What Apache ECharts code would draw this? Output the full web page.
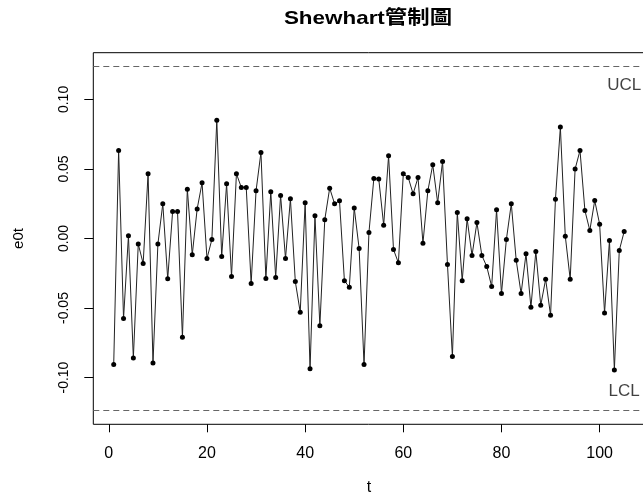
<!DOCTYPE html>
<html>
<head>
<meta charset="utf-8">
<script src="https://cdn.jsdelivr.net/npm/echarts@6/dist/echarts.min.js"></script>
<style>html,body{margin:0;padding:0;background:#fff;}#c{width:643px;height:493px;}</style>
</head>
<body>
<div id="c"></div>
<script>
const t = [1,2,3,4,5,6,7,8,9,10,11,12,13,14,15,16,17,18,19,20,21,22,23,24,25,26,27,28,29,30,31,32,33,34,35,36,37,38,39,40,41,42,43,44,45,46,47,48,49,50,51,52,53,54,55,56,57,58,59,60,61,62,63,64,65,66,67,68,69,70,71,72,73,74,75,76,77,78,79,80,81,82,83,84,85,86,87,88,89,90,91,92,93,94,95,96,97,98,99,100,101,102,103,104,105];
const e0t = [
 -0.0906, 0.0633, -0.0576, 0.0020, -0.0860, -0.0040, -0.0180, 0.0465, -0.0895, -0.0040,
  0.0250, -0.0290, 0.0194, 0.0194, -0.0710, 0.0355, -0.0117, 0.0213, 0.0400, -0.0144,
 -0.0007, 0.0851, -0.0130, 0.0393, -0.0273, 0.0465, 0.0367, 0.0367, -0.0324, 0.0343,
  0.0619, -0.0288, 0.0336, -0.0280, 0.0310, -0.0144, 0.0285, -0.0310, -0.0530, 0.0257,
 -0.0937, 0.0163, -0.0628, 0.0135, 0.0362, 0.0250, 0.0271, -0.0304, -0.0350, 0.0220,
 -0.0072, -0.0906, 0.0043, 0.0432, 0.0427, 0.0096, 0.0595, -0.0079, -0.0175, 0.0465,
  0.0439, 0.0321, 0.0439, -0.0034, 0.0343, 0.0530, 0.0257, 0.0554, -0.0187, -0.0849,
  0.0187, -0.0304, 0.0142, -0.0122, 0.0115, -0.0122, -0.0201, -0.0345, 0.0206, -0.0396,
 -0.0007, 0.0250, -0.0156, -0.0396, -0.0110, -0.0494, -0.0094, -0.0480, -0.0293, -0.0552,
  0.0283, 0.0801, 0.0017, -0.0293, 0.0499, 0.0633, 0.0201, 0.0058, 0.0273, 0.0103,
 -0.0535, -0.0014, -0.0945, -0.0086, 0.0050
];
const UCL = 0.1236;
const LCL = -0.1236;
const limitLabels = ['UCL', 'LCL'];
const limitLabelPos = [[105, 0.11], [105, -0.11]];
const xTicks = [0, 20, 40, 60, 80, 100];
const yTicks = [-0.10, -0.05, 0.00, 0.05, 0.10];
const xRange = [-3.16, 109.16];
const yRange = [-0.1336, 0.1336];
const titleText = 'Shewhart管制圖';

const FONT = '"Liberation Sans", Arial, "Noto Sans CJK TC", sans-serif';
const chart = echarts.init(document.getElementById('c'), null, {renderer: 'canvas'});
chart.setOption({
  animation: false,
  backgroundColor: '#fff',
  graphic: [{
    type: 'text', x: 368, y: 19, scaleX: 1.18, scaleY: 1,
    style: {text: titleText, font: 'bold 19px ' + FONT, fill: '#000', align: 'center', verticalAlign: 'middle'}
  }],
  grid: {left: 93.3, top: 52.7, width: 551.3, height: 371.6, outerBoundsMode: 'none', containLabel: false,
         show: true, borderColor: '#000', borderWidth: 1, backgroundColor: 'transparent'},
  xAxis: {
    type: 'value', min: xRange[0], max: xRange[1],
    name: 't', nameLocation: 'middle', nameGap: 55,
    nameTextStyle: {fontFamily: FONT, fontSize: 16, color: '#000'},
    axisLine: {show: false, onZero: false},
    splitLine: {show: false},
    axisTick: {show: true, inside: false, length: 8, customValues: xTicks, lineStyle: {color: '#000'}},
    axisLabel: {customValues: xTicks, margin: 21, fontFamily: FONT, fontSize: 16, color: '#000', formatter: v => String(v)}
  },
  yAxis: {
    type: 'value', min: yRange[0], max: yRange[1],
    name: 'e0t', nameLocation: 'middle', nameGap: 67, nameRotate: 90,
    nameTextStyle: {fontFamily: FONT, fontSize: 15, color: '#000'},
    axisLine: {show: false, onZero: false},
    splitLine: {show: false},
    axisTick: {show: true, inside: false, length: 9, customValues: yTicks, lineStyle: {color: '#000'}},
    axisLabel: {customValues: yTicks, rotate: 90, margin: 22, fontFamily: FONT, fontSize: 14, color: '#000', formatter: v => v.toFixed(2)}
  },
  series: [
    {
      type: 'line',
      data: t.map((x, i) => [x, e0t[i]]),
      symbol: 'circle', symbolSize: 5,
      itemStyle: {color: '#000'},
      lineStyle: {color: '#222', width: 1},
      markLine: {
        silent: true, symbol: 'none', precision: 6,
        label: {show: false},
        lineStyle: {color: '#666', type: [6, 4], width: 1},
        data: [{yAxis: UCL}, {yAxis: LCL}]
      }
    },
    {
      type: 'scatter',
      symbolSize: 0,
      data: limitLabelPos.map((p, i) => ({value: p, name: limitLabels[i]})),
      label: {show: true, position: 'inside', formatter: p => p.name, fontFamily: FONT, fontSize: 17, color: '#111'}
    }
  ]
});
</script>
</body>
</html>
